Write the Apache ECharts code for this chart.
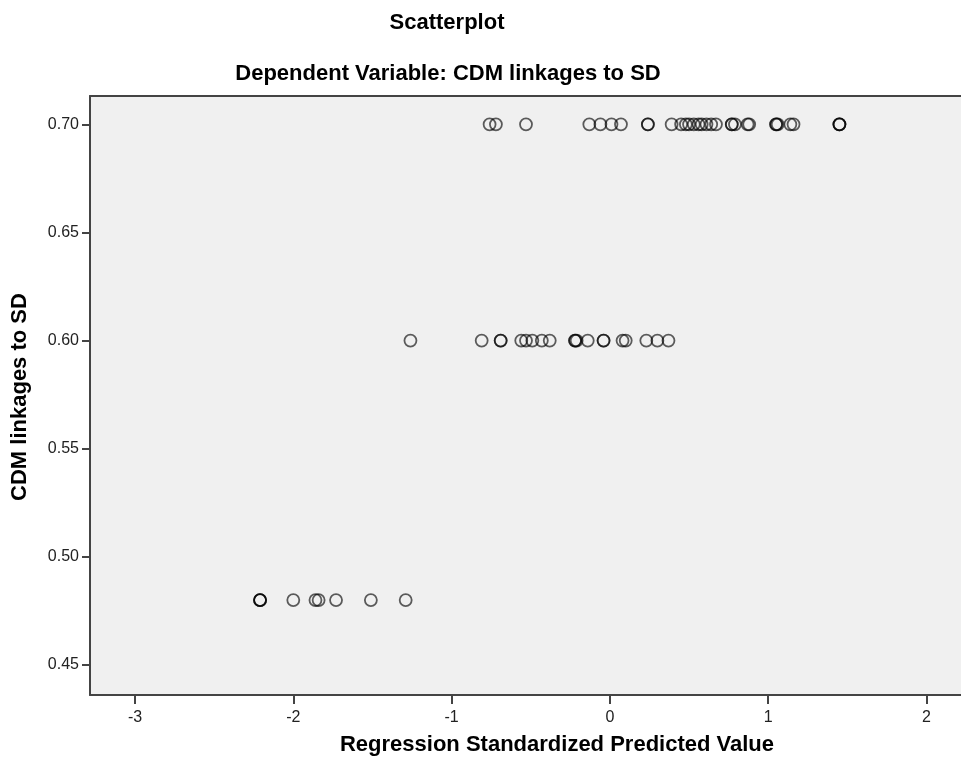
<!DOCTYPE html>
<html>
<head>
<meta charset="utf-8">
<script src="https://cdn.jsdelivr.net/npm/echarts@6/dist/echarts.min.js"></script>
<style>
  html, body { margin: 0; padding: 0; background: #ffffff; }
  #chart { width: 961px; height: 770px; }
</style>
</head>
<body>
<div id="chart"></div>
<script>
// Standardized predicted values, grouped by observed response level
const predictedAt070 = [-0.76, -0.72, -0.53, -0.13, -0.06, 0.01, 0.07, 0.24, 0.24, 0.39,
  0.45, 0.48, 0.50, 0.53, 0.56, 0.58, 0.61, 0.64, 0.67, 0.77, 0.77, 0.79, 0.87, 0.88,
  1.05, 1.05, 1.06, 1.14, 1.16, 1.45, 1.45, 1.45];
const predictedAt060 = [-1.26, -0.81, -0.69, -0.69, -0.56, -0.53, -0.49, -0.43, -0.38,
  -0.22, -0.22, -0.21, -0.14, -0.04, -0.04, 0.08, 0.10, 0.23, 0.30, 0.37];
const predictedAt048 = [-2.21, -2.21, -2.21, -2.00, -1.86, -1.84, -1.73, -1.51, -1.29];
const responseLevels = [0.70, 0.60, 0.48];

const xTicks = [-3, -2, -1, 0, 1, 2];
const yTicks = [0.45, 0.50, 0.55, 0.60, 0.65, 0.70];

const titleText = 'Scatterplot';
const subtitleText = 'Dependent Variable: CDM linkages to SD';
const xAxisTitle = 'Regression Standardized Predicted Value';
const yAxisTitle = 'CDM linkages to SD';

const points = [];
[predictedAt070, predictedAt060, predictedAt048].forEach((group, i) => {
  group.forEach(x => points.push([x, responseLevels[i]]));
});

const FONT = '"Liberation Sans", Arial, sans-serif';
const boldText = { fontFamily: FONT, fontWeight: 'bold', fontSize: 22, fill: '#000' };
const frameLine = { color: '#444444', width: 2 };
const X_MIN = -3.2843, X_MAX = 2.218;

const chart = echarts.init(document.getElementById('chart'), null, { renderer: 'canvas' });
chart.setOption({
  animation: false,
  backgroundColor: '#ffffff',
  grid: {
    left: 90, top: 96, right: 0, bottom: 75,
    show: true,
    backgroundColor: '#f0f0f0',
    borderWidth: 0
  },
  xAxis: [{
    type: 'value',
    min: X_MIN,
    max: X_MAX,
    splitLine: { show: false },
    axisLine: { show: true, onZero: false, lineStyle: frameLine },
    axisTick: { show: true, length: 9, customValues: xTicks, lineStyle: frameLine },
    axisLabel: {
      customValues: xTicks, margin: 15, color: '#222', fontFamily: FONT, fontSize: 16,
      formatter: v => String(v)
    }
  }, {
    // top edge of the plot frame
    type: 'value',
    position: 'top',
    min: X_MIN,
    max: X_MAX,
    splitLine: { show: false },
    axisLine: { show: true, onZero: false, lineStyle: frameLine },
    axisTick: { show: false },
    axisLabel: { show: false }
  }],
  yAxis: {
    type: 'value',
    min: 0.4361,
    max: 0.7131,
    splitLine: { show: false },
    axisLine: { show: true, onZero: false, lineStyle: frameLine },
    axisTick: { show: true, length: 8, customValues: yTicks, lineStyle: frameLine },
    axisLabel: {
      customValues: yTicks, margin: 11, color: '#222', fontFamily: FONT, fontSize: 16,
      formatter: v => v.toFixed(2)
    }
  },
  series: [{
    type: 'scatter',
    xAxisIndex: 0,
    data: points,
    symbol: 'circle',
    symbolSize: 12,
    itemStyle: {
      color: 'rgba(0,0,0,0)',
      borderColor: 'rgba(0,0,0,0.78)',
      borderWidth: 1.8
    },
    emphasis: { disabled: true }
  }],
  graphic: [
    { type: 'text', x: 447, y: 23, style: Object.assign({ text: titleText, textAlign: 'center', textVerticalAlign: 'middle' }, boldText) },
    { type: 'text', x: 448, y: 74, style: Object.assign({ text: subtitleText, textAlign: 'center', textVerticalAlign: 'middle' }, boldText) },
    { type: 'text', x: 557, y: 745, style: Object.assign({ text: xAxisTitle, textAlign: 'center', textVerticalAlign: 'middle' }, boldText) },
    { type: 'text', x: 20, y: 397, rotation: Math.PI / 2, style: Object.assign({ text: yAxisTitle, textAlign: 'center', textVerticalAlign: 'middle' }, boldText) }
  ]
});
</script>
</body>
</html>
